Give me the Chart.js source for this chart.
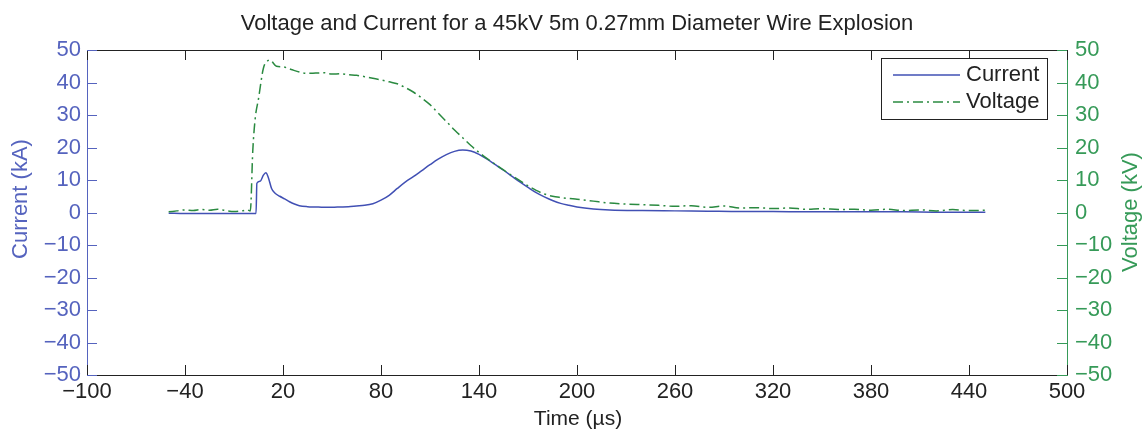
<!DOCTYPE html>
<html>
<head>
<meta charset="utf-8">
<script src="https://cdn.jsdelivr.net/npm/chart.js@4/dist/chart.umd.min.js"></script>
<style>
  body { margin: 0; background: #fff; }
  #wrap { width: 1142px; height: 430px; position: relative; }
</style>
</head>
<body>
<div id="wrap"><canvas id="chart"></canvas></div>
<script>
// Dados (tempo em µs)
const currentTime = [-50, -40, -30, -20, -10, 0, 3.5, 4, 6, 8, 9.5, 11, 13, 15, 18, 21, 24, 27, 30, 35, 40, 45, 50, 55, 60, 65, 70, 75,
  80, 85, 90, 95, 100, 105, 110, 115, 120, 125, 130, 135, 140, 145, 150, 155, 160, 165, 170, 175, 180, 185, 190, 195, 200,
  210, 220, 240, 260, 280, 300, 320, 340, 360, 380, 400, 420, 450];
const currentKA = [-0.2, -0.3, -0.3, -0.3, -0.3, -0.3, -0.3, 9.0, 9.6, 11.5, 12.2, 10.8, 7.4, 6.0, 5.0, 4.2, 3.3, 2.6, 2.1, 1.8, 1.7, 1.6, 1.6, 1.7, 1.8, 2.0, 2.2, 2.7,
  3.8, 5.3, 7.4, 9.4, 11.1, 12.9, 14.7, 16.4, 17.8, 18.8, 19.2, 18.9, 17.9, 16.4, 14.7, 13.0, 11.2, 9.4, 7.7, 6.1, 4.8, 3.7, 2.8, 2.2, 1.7,
  1.1, 0.8, 0.6, 0.5, 0.4, 0.3, 0.3, 0.2, 0.2, 0.2, 0.2, 0.1, 0.1];

const voltageTime = [-50, -45, -40, -35, -30, -25, -20, -15, -10, -5, -2, 0, 1.5, 3, 5, 8, 11, 12, 16, 20, 25, 30, 35, 40, 45, 50, 55, 60, 65, 70,
  75, 80, 85, 90, 95, 100, 105, 110, 115, 120, 125, 130, 135, 140, 145, 150, 155, 160, 165, 170, 175, 180, 185, 190, 195, 200,
  210, 220, 230, 240, 250, 260, 270, 280, 290, 300, 310, 320, 330, 340, 350, 360, 370, 380, 390, 400, 410, 420, 430, 440, 450];
const voltageKV = [0.2, 0.5, 0.8, 0.6, 0.9, 0.7, 1.0, 0.6, 0.3, 0.5, 0.8, 0.5, 19, 29, 35, 44.4, 46.8, 46.9, 45.0, 44.8, 44.0, 43.2, 42.8, 42.9, 43.0, 42.6, 42.7, 42.4, 42.2, 41.8,
  41.3, 40.8, 40.2, 39.6, 38.4, 37.0, 35.2, 33.2, 30.6, 28.0, 25.4, 23.0, 20.6, 18.5, 16.6, 14.8, 13.1, 11.4, 9.8, 8.2, 6.8, 5.7, 5.0, 4.6, 4.3, 4.1,
  3.5, 2.9, 2.6, 2.4, 2.2, 1.9, 2.1, 1.6, 2.0, 1.4, 1.5, 1.2, 1.4, 1.0, 1.2, 0.9, 1.0, 0.7, 1.0, 0.6, 0.8, 0.5, 0.9, 0.6, 0.7];

const timeTicks = [-100, -40, 20, 80, 140, 200, 260, 320, 380, 440, 500];
const yTicks = [-50, -40, -30, -20, -10, 0, 10, 20, 30, 40, 50];

const chartTitle = 'Voltage and Current for a 45kV 5m 0.27mm Diameter Wire Explosion';
const seriesNames = ['Current', 'Voltage'];

const FONT = '"Liberation Sans", Arial, sans-serif';
const BLUE = '#4150b4';
const BLUE_TXT = '#5563be';
const GREEN = '#2a8a40';
const GREEN_TXT = '#369a58';
const BLACK = '#222';
const VOLT_DASH = [10, 4, 2, 4];

const fmt = v => String(v).replace('-', '\u2212');

// Ticks para dentro, borda superior, títulos e legenda
const decorPlugin = {
  id: 'decor',
  afterDraw(chart) {
    const { ctx, chartArea: a, scales } = chart;
    const tl = 10;
    ctx.save();
    ctx.lineWidth = 1;

    // borda superior
    ctx.strokeStyle = BLACK;
    ctx.beginPath();
    ctx.moveTo(a.left, a.top + 0.5);
    ctx.lineTo(a.right, a.top + 0.5);
    ctx.stroke();

    // ticks do eixo x (embaixo e em cima)
    timeTicks.forEach(v => {
      const x = Math.round(scales.x.getPixelForValue(v)) + 0.5;
      ctx.beginPath();
      ctx.moveTo(x, a.bottom); ctx.lineTo(x, a.bottom - tl);
      ctx.moveTo(x, a.top); ctx.lineTo(x, a.top + tl);
      ctx.stroke();
    });

    // ticks esquerda (azul) e direita (verde)
    yTicks.forEach(v => {
      const y = Math.round(scales.y.getPixelForValue(v)) + 0.5;
      ctx.strokeStyle = BLUE_TXT;
      ctx.beginPath(); ctx.moveTo(a.left, y); ctx.lineTo(a.left + tl, y); ctx.stroke();
      const y1 = Math.round(scales.y1.getPixelForValue(v)) + 0.5;
      ctx.strokeStyle = GREEN_TXT;
      ctx.beginPath(); ctx.moveTo(a.right, y1); ctx.lineTo(a.right - tl, y1); ctx.stroke();
    });

    // título
    ctx.fillStyle = BLACK;
    ctx.font = '22px ' + FONT;
    ctx.textAlign = 'center';
    ctx.textBaseline = 'middle';
    ctx.fillText(chartTitle, (a.left + a.right) / 2, 24);

    // título do eixo x
    ctx.font = '21px ' + FONT;
    ctx.fillText('Time (\u00b5s)', 578, 419);

    // títulos dos eixos y (ambos lidos de baixo para cima)
    ctx.font = '22px ' + FONT;
    ctx.fillStyle = BLUE_TXT;
    ctx.translate(21, 199);
    ctx.rotate(-Math.PI / 2);
    ctx.fillText('Current (kA)', 0, 0);
    ctx.setTransform(1, 0, 0, 1, 0, 0);
    ctx.fillStyle = GREEN_TXT;
    ctx.translate(1131, 212);
    ctx.rotate(-Math.PI / 2);
    ctx.fillText('Voltage (kV)', 0, 0);
    ctx.setTransform(1, 0, 0, 1, 0, 0);

    // legenda
    const lx = 881, ly = 58, lw = 166, lh = 61;
    ctx.fillStyle = '#fff';
    ctx.fillRect(lx, ly, lw, lh);
    ctx.strokeStyle = BLACK;
    ctx.strokeRect(lx + 0.5, ly + 0.5, lw, lh);
    const rows = [
      { name: seriesNames[0], color: BLUE, dash: [], y: 75 },
      { name: seriesNames[1], color: GREEN, dash: VOLT_DASH, y: 102 }
    ];
    rows.forEach(r => {
      ctx.strokeStyle = r.color;
      ctx.lineWidth = 1.5;
      ctx.setLineDash(r.dash);
      ctx.beginPath(); ctx.moveTo(893, r.y); ctx.lineTo(960, r.y); ctx.stroke();
      ctx.setLineDash([]);
      ctx.fillStyle = BLACK;
      ctx.font = '22px ' + FONT;
      ctx.textAlign = 'left';
      ctx.fillText(r.name, 966, r.y);
    });
    ctx.restore();
  }
};

const currentData = currentTime.map((t, i) => ({ x: t, y: currentKA[i] }));
const voltageData = voltageTime.map((t, i) => ({ x: t, y: voltageKV[i] }));

new Chart(document.getElementById('chart'), {
  type: 'line',
  data: {
    datasets: [
      { label: seriesNames[0], data: currentData, yAxisID: 'y', borderColor: BLUE, borderWidth: 1.5,
        pointRadius: 0, cubicInterpolationMode: 'monotone', order: 1 },
      { label: seriesNames[1], data: voltageData, yAxisID: 'y1', borderColor: GREEN, borderWidth: 1.5,
        borderDash: VOLT_DASH, pointRadius: 0, cubicInterpolationMode: 'monotone', order: 0 }
    ]
  },
  options: {
    responsive: true,
    maintainAspectRatio: false,
    animation: false,
    layout: { padding: { top: 50, left: 0, right: 0, bottom: 0 } },
    plugins: { legend: { display: false }, title: { display: false }, tooltip: { enabled: false } },
    scales: {
      x: {
        type: 'linear', min: -100, max: 500,
        afterFit: s => { s.height = 55; },
        afterBuildTicks: s => { s.ticks = timeTicks.map(v => ({ value: v })); },
        grid: { display: false, drawTicks: false },
        border: { display: true, color: BLACK, width: 1 },
        ticks: { autoSkip: false, maxRotation: 0, padding: 4, color: BLACK, font: { family: FONT, size: 22 }, callback: fmt }
      },
      y: {
        type: 'linear', position: 'left', min: -50, max: 50,
        afterFit: s => { s.width = 87; },
        afterBuildTicks: s => { s.ticks = yTicks.map(v => ({ value: v })); },
        grid: { display: false, drawTicks: false },
        border: { display: true, color: BLUE_TXT, width: 1 },
        ticks: { autoSkip: false, padding: 6, color: BLUE_TXT, font: { family: FONT, size: 22 }, callback: fmt }
      },
      y1: {
        type: 'linear', position: 'right', min: -50, max: 50,
        afterFit: s => { s.width = 75; },
        afterBuildTicks: s => { s.ticks = yTicks.map(v => ({ value: v })); },
        grid: { display: false, drawTicks: false },
        border: { display: true, color: GREEN_TXT, width: 1 },
        ticks: { autoSkip: false, padding: 8, color: GREEN_TXT, font: { family: FONT, size: 22 }, callback: fmt }
      }
    }
  },
  plugins: [decorPlugin]
});
</script>
</body>
</html>
